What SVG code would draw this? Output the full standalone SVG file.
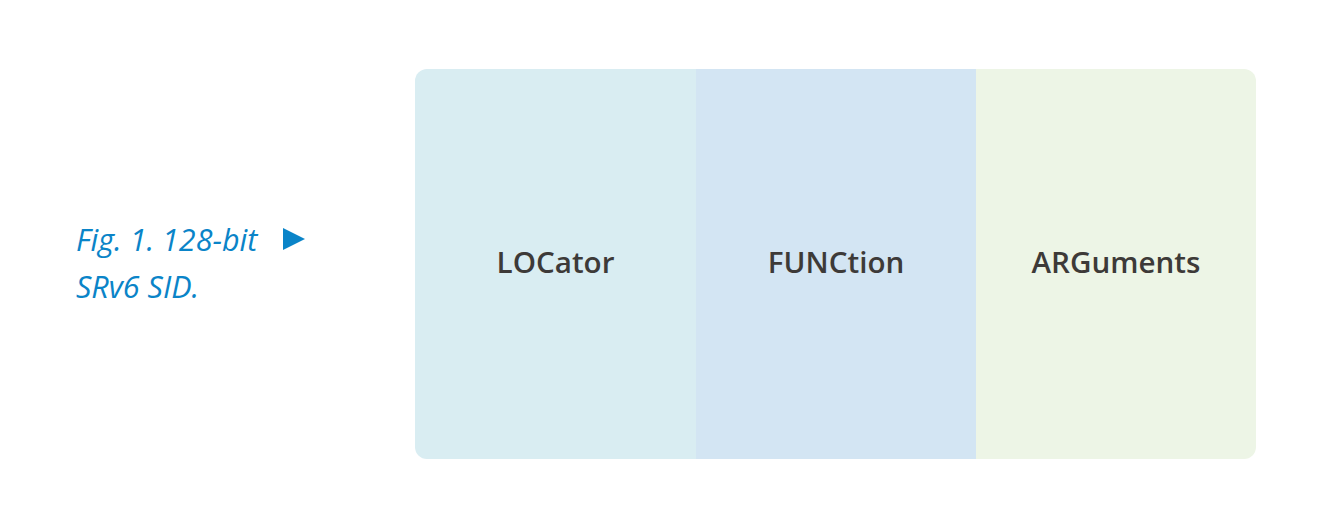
<svg xmlns="http://www.w3.org/2000/svg" width="1335" height="521" viewBox="0 0 1335 521">
<style>
.lbl{font-family:"Open Sans","Noto Sans","Liberation Sans",sans-serif;font-weight:600;font-size:29.6px;fill:#3d3a38;text-anchor:middle}
.cap{font-family:"Open Sans","Noto Sans","Liberation Sans",sans-serif;font-style:italic;font-size:30.5px;fill:#0a84c8}
</style>
<defs>
<clipPath id="clip"><rect x="415" y="69" width="841" height="390" rx="12" ry="12"/></clipPath>
</defs>
<rect width="1335" height="521" fill="#ffffff"/>
<g id="caption">
<text class="cap" x="76" y="251">Fig. 1. 128-bit</text>
<text class="cap" x="76" y="298">SRv6 SID.</text>
<polygon points="283,228 305,239 283,250" fill="#0a84c8"/>
</g>
<g clip-path="url(#clip)">
<g id="locator">
<rect x="415" y="69" width="281" height="390" fill="#d9edf2"/>
<text class="lbl" x="555.5" y="273">LOCator</text>
</g>
<g id="function">
<rect x="696" y="69" width="280" height="390" fill="#d3e5f3"/>
<text class="lbl" x="836" y="273">FUNCtion</text>
</g>
<g id="arguments">
<rect x="976" y="69" width="280" height="390" fill="#edf5e6"/>
<text class="lbl" x="1116" y="273">ARGuments</text>
</g>
</g>
<g id="connectors"/>
</svg>
